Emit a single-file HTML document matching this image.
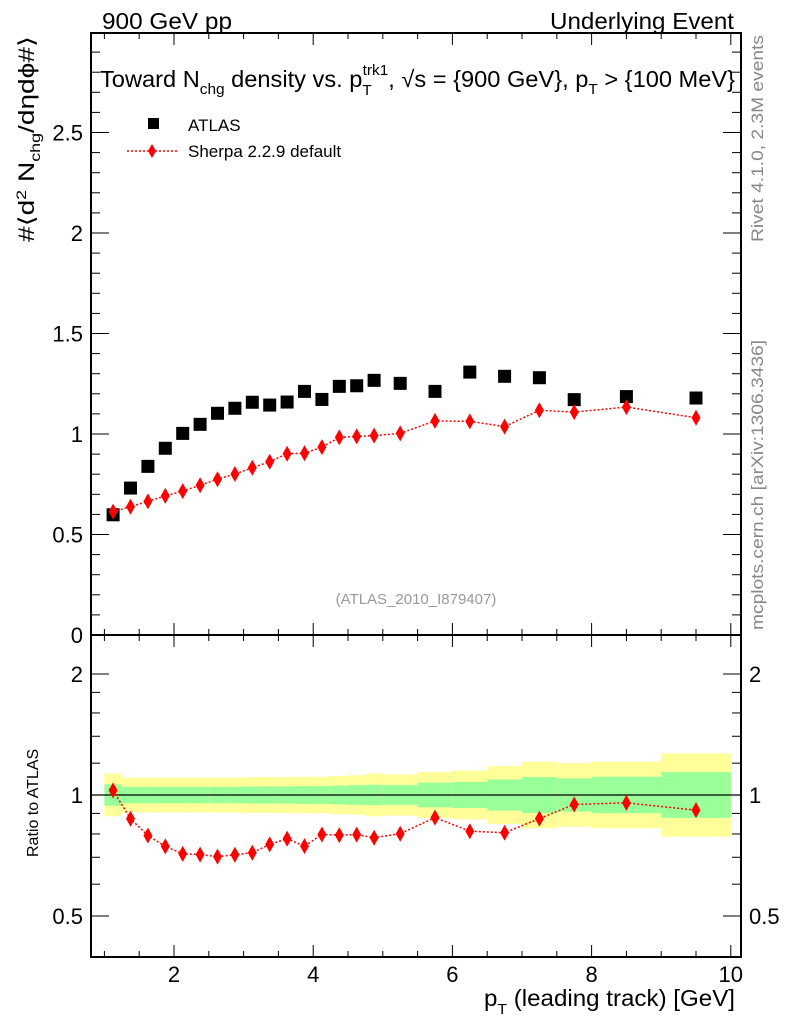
<!DOCTYPE html>
<html><head><meta charset="utf-8"><style>
body{margin:0;background:#fff;}
svg{display:block;font-family:"Liberation Sans",sans-serif;}
</style></head><body>
<svg id="c" width="786" height="1024" viewBox="0 0 786 1024"></svg>
<script>
const binLo = [1,1.25,1.5,1.75,2,2.25,2.5,2.75,3,3.25,3.5,3.75,4,4.25,4.5,4.75,5,5.5,6,6.5,7,7.5,8,9];
const binHi = [1.25,1.5,1.75,2,2.25,2.5,2.75,3,3.25,3.5,3.75,4,4.25,4.5,4.75,5,5.5,6,6.5,7,7.5,8,9,10];
const xCenters = [1.125,1.375,1.625,1.875,2.125,2.375,2.625,2.875,3.125,3.375,3.625,3.875,4.125,4.375,4.625,4.875,5.25,5.75,6.25,6.75,7.25,7.75,8.5,9.5];
const atlasVals = [0.598,0.731,0.839,0.929,1.003,1.048,1.103,1.128,1.158,1.144,1.159,1.212,1.172,1.237,1.240,1.267,1.252,1.212,1.308,1.287,1.280,1.171,1.186,1.179];
const sherpaVals = [0.614,0.638,0.665,0.692,0.716,0.745,0.775,0.801,0.832,0.862,0.902,0.904,0.935,0.983,0.988,0.992,1.003,1.065,1.063,1.037,1.118,1.109,1.134,1.081];
const sherpaErr = [0.01,0.01,0.01,0.01,0.01,0.01,0.01,0.01,0.01,0.01,0.01,0.01,0.01,0.012,0.012,0.012,0.015,0.015,0.015,0.02,0.02,0.025,0.025,0.03];
const totErr = [0.13,0.105,0.105,0.105,0.105,0.105,0.105,0.105,0.108,0.108,0.108,0.11,0.11,0.115,0.12,0.13,0.125,0.14,0.15,0.18,0.21,0.2,0.21,0.27];
const statErr = [0.063,0.048,0.048,0.048,0.048,0.048,0.048,0.048,0.05,0.05,0.05,0.052,0.052,0.055,0.058,0.06,0.058,0.073,0.078,0.093,0.108,0.1,0.11,0.14];
const mainTicks = [0.5,1,1.5,2,2.5];
const ratioTicks = [0.5,1,2];
const xTicks = [2,4,6,8,10];

const NS="http://www.w3.org/2000/svg", svg=document.getElementById('c');
function el(t,a,p){const e=document.createElementNS(NS,t);for(const k in a)e.setAttribute(k,a[k]);(p||svg).appendChild(e);return e;}
const L=91,R=741,T=33,MB=635,RB=957;
const X=v=>34.8+69.6*v;
const Ym=v=>635-201*v;
const Yr=v=>795-121*Math.log2(v);

const gBand=el('g',{});


for(let i=0;i<binLo.length;i++){
  const x0=X(binLo[i]),x1=X(binHi[i]);
  const y=el('rect',{x:x0,y:Yr(1+totErr[i]),width:x1-x0,height:Yr(1/(1+totErr[i]))-Yr(1+totErr[i]),fill:'#ffff99'},gBand);
  
  
  const g=el('rect',{x:x0,y:Yr(1+statErr[i]),width:x1-x0,height:Yr(1/(1+statErr[i]))-Yr(1+statErr[i]),fill:'#99ff99'},gBand);
  
  
}
el('line',{x1:L,x2:R,y1:Yr(1),y2:Yr(1),stroke:'#000','stroke-width':1.2});

el('rect',{x:L,y:T,width:R-L,height:MB-T,fill:'none',stroke:'#000','stroke-width':2});
el('rect',{x:L,y:MB,width:R-L,height:RB-MB,fill:'none',stroke:'#000','stroke-width':2});

for(let v=1;v<=10.001;v+=0.5){
  const major=Math.abs(v-Math.round(v/2)*2)<1e-6;
  const len=major?12:6,x=X(v);
  for(const [yb,d] of [[T,1],[MB,-1],[MB,1],[RB,-1]]) el('line',{x1:x,x2:x,y1:yb,y2:yb+d*len,stroke:'#000','stroke-width':1});
}
xTicks.forEach(v=>{const t=el('text',{x:X(v),y:982,'font-size':22,'text-anchor':'middle'});t.textContent=v;
});
for(let k=1;k<=29;k++){const v=k/10,y=Ym(v),major=k%5==0,len=major?18:9;
  el('line',{x1:L,x2:L+len,y1:y,y2:y,stroke:'#000'});el('line',{x1:R,x2:R-len,y1:y,y2:y,stroke:'#000'});}
mainTicks.forEach(v=>{const t=el('text',{x:83,y:Ym(v)+8,'font-size':22,'text-anchor':'end'});t.textContent=v;
});
{const t=el('text',{x:83,y:643,'font-size':22,'text-anchor':'end'});t.textContent='0';}
[0.5,0.6,0.7,0.8,0.9,1,2].forEach(v=>{const y=Yr(v),major=ratioTicks.includes(v),len=major?18:9;
  el('line',{x1:L,x2:L+len,y1:y,y2:y,stroke:'#000'});el('line',{x1:R,x2:R-len,y1:y,y2:y,stroke:'#000'});});
for(const v of [1.2,1.4,1.6,1.8]){const y=Yr(v);el('line',{x1:L,x2:L+9,y1:y,y2:y,stroke:'#000'});el('line',{x1:R,x2:R-9,y1:y,y2:y,stroke:'#000'});}
ratioTicks.forEach(v=>{for(const [x,a] of [[83,'end'],[749,'start']]){const t=el('text',{x:x,y:Yr(v)+8,'font-size':22,'text-anchor':a});t.textContent=v;
}});

atlasVals.forEach((v,i)=>{const r=el('rect',{x:X(xCenters[i])-6.5,y:Ym(v)-6.5,width:13,height:13,fill:'#000'});
});
function diamond(x,y,g){return el('polygon',{points:`${x},${y-8} ${x+4.5},${y} ${x},${y+8} ${x-4.5},${y}`,fill:'#f00'},g);}
const lineMain=xCenters.map((x,i)=>X(x)+','+Ym(sherpaVals[i])).join(' ');
el('polyline',{points:lineMain,fill:'none',stroke:'#f00','stroke-width':1.5,'stroke-dasharray':'2,2'});
const ratios=sherpaVals.map((v,i)=>v/atlasVals[i]);
el('polyline',{points:xCenters.map((x,i)=>X(x)+','+Yr(ratios[i])).join(' '),fill:'none',stroke:'#f00','stroke-width':1.5,'stroke-dasharray':'2,2'});
sherpaVals.forEach((v,i)=>{const x=X(xCenters[i]);
  el('line',{x1:x,x2:x,y1:Ym(v+sherpaErr[i]),y2:Ym(v-sherpaErr[i]),stroke:'#f00','stroke-width':1.5});
  const d=diamond(x,Ym(v));
  const r=ratios[i],re=sherpaErr[i]/atlasVals[i];
  el('line',{x1:x,x2:x,y1:Yr(r+re),y2:Yr(r-re),stroke:'#f00','stroke-width':1.5});
  const d2=diamond(x,Yr(r));});
</script>
<svg style="position:absolute;left:0;top:0" width="786" height="1024">
<g font-family="Liberation Sans, sans-serif">
<text x="102" y="29" font-size="23" textLength="130" lengthAdjust="spacingAndGlyphs">900 GeV pp</text>
<text x="550" y="29" font-size="23" textLength="184" lengthAdjust="spacingAndGlyphs">Underlying Event</text>
<text x="100" y="87" font-size="23" textLength="635" lengthAdjust="spacingAndGlyphs">Toward N<tspan font-size="15" dy="7">chg</tspan><tspan dy="-7"> density vs. p</tspan><tspan font-size="15" dy="8">T</tspan><tspan font-size="15" dx="-9" dy="-20">trk1</tspan><tspan dy="12">, √s = {900 GeV}, p</tspan><tspan font-size="15" dy="7">T</tspan><tspan dy="-7"> &gt; {100 MeV}</tspan></text>
<rect x="148" y="118" width="11" height="11" fill="#000"/>
<text x="188" y="131" font-size="17">ATLAS</text>
<line x1="127" x2="177" y1="151" y2="151" stroke="#f00" stroke-width="1.5" stroke-dasharray="2,2"/>
<polygon points="152,144 156,151 152,158 148,151" fill="#f00"/>
<text x="188" y="157" font-size="17">Sherpa 2.2.9 default</text>
<text x="416" y="604" font-size="15" fill="#999" text-anchor="middle">(ATLAS_2010_I879407)</text>
<text x="484" y="1006" font-size="23" textLength="251" lengthAdjust="spacingAndGlyphs">p<tspan font-size="15" dy="8">T</tspan><tspan dy="-8"> (leading track) [GeV]</tspan></text>
<text transform="translate(34,242) rotate(-90)" font-size="22" textLength="206" lengthAdjust="spacingAndGlyphs">#⟨d<tspan font-size="14" dy="-8">2</tspan><tspan dy="8"> N</tspan><tspan font-size="14" dy="6">chg</tspan><tspan dy="-6">/dηdϕ#⟩</tspan></text>
<text transform="translate(38,857) rotate(-90)" font-size="16">Ratio to ATLAS</text>
<text transform="translate(763,242) rotate(-90)" font-size="17" fill="#888" textLength="207" lengthAdjust="spacingAndGlyphs">Rivet 4.1.0,  2.3M events</text>
<text transform="translate(763,630) rotate(-90)" font-size="17" fill="#888" textLength="290" lengthAdjust="spacingAndGlyphs">mcplots.cern.ch [arXiv:1306.3436]</text>
</g></svg>
</body></html>
